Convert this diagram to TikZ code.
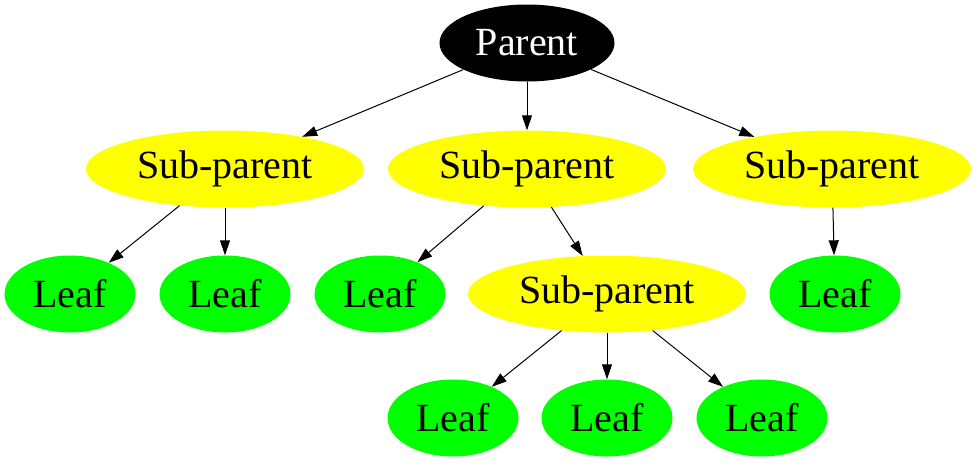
\documentclass[tikz,border=0pt]{standalone}
\usepackage{fontspec}
\setmainfont{Liberation Serif}
\usetikzlibrary{shapes.geometric,arrows.meta}
\definecolor{leafgreen}{RGB}{0,255,0}
\definecolor{subyellow}{RGB}{255,255,0}
\tikzset{
  base/.style={ellipse, inner sep=0pt, font=\fontsize{40}{42}\selectfont},
  parentnode/.style={base, fill=black, text=white, minimum width=175pt, minimum height=77pt},
  subnode/.style={base, fill=subyellow, minimum width=278pt, minimum height=77pt},
  leafnode/.style={base, fill=leafgreen, minimum width=131pt, minimum height=77pt},
  edge/.style={draw=black, line width=1pt, -{Triangle[length=15pt,width=10pt]}}
}
\begin{document}
\begin{tikzpicture}[x=1pt,y=-1pt]
\useasboundingbox (0,0) rectangle (977,464);
\node[parentnode] (p) at (527,43) {Parent};
\node[subnode] (s1) at (225,169) {Sub-parent};
\node[subnode] (s2) at (527,169) {Sub-parent};
\node[subnode] (s3) at (832,169) {Sub-parent};
\node[leafnode] (l1) at (70,294) {Leaf};
\node[leafnode] (l2) at (225,294) {Leaf};
\node[leafnode] (l3) at (380,294) {Leaf};
\node[subnode] (s4) at (607,294) {Sub-parent};
\node[leafnode] (l4) at (835,294) {Leaf};
\node[leafnode] (b1) at (453,418) {Leaf};
\node[leafnode] (b2) at (607,418) {Leaf};
\node[leafnode] (b3) at (762,418) {Leaf};
\draw[edge] (p) -- (s1);
\draw[edge] (p) -- (s2);
\draw[edge] (p) -- (s3);
\draw[edge] (s1) -- (l1);
\draw[edge] (s1) -- (l2);
\draw[edge] (s2) -- (l3);
\draw[edge] (s2) -- (s4);
\draw[edge] (s3) -- (l4);
\draw[edge] (s4) -- (b1);
\draw[edge] (s4) -- (b2);
\draw[edge] (s4) -- (b3);
\end{tikzpicture}
\end{document}
